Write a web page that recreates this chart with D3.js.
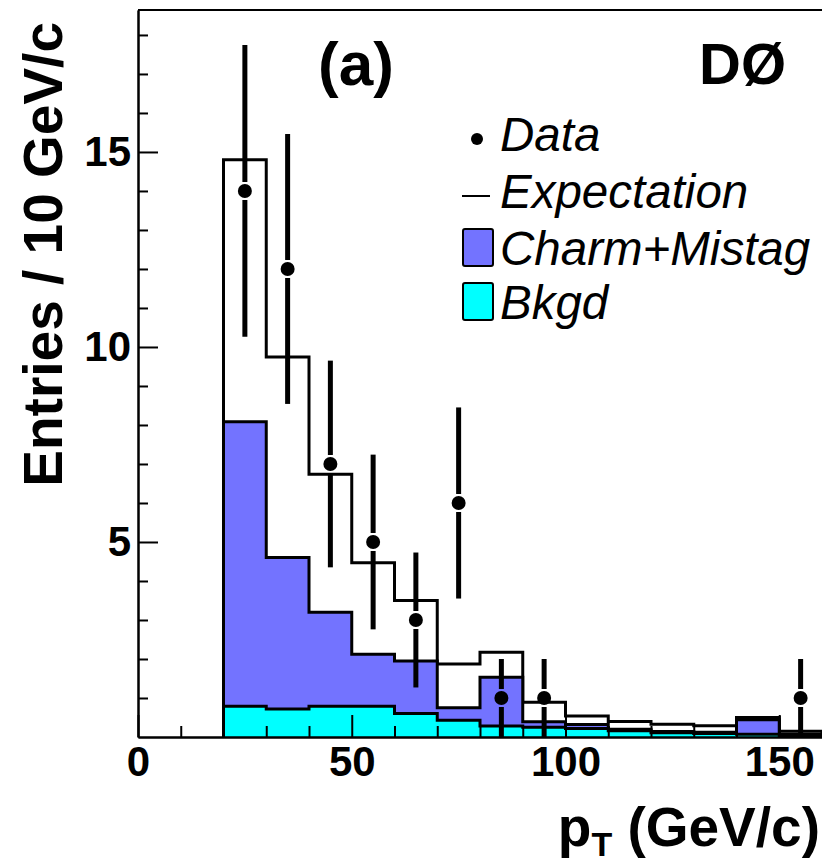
<!DOCTYPE html>
<html>
<head>
<meta charset="utf-8">
<script src="https://cdn.jsdelivr.net/npm/d3@7"></script>
<style>
	body { margin: 0; background: #fff; }
	svg { display: block; font-family: 'Liberation Sans', Arial, Helvetica, sans-serif; }
	.axis text { font-size: 42px; font-weight: bold; fill: #000; }
	.axis .domain { stroke: #000; stroke-width: 2; }
	.axis line { stroke: #000; stroke-width: 2; }
	.legend-text { font-size: 47.5px; font-style: italic; }
</style>
</head>
<body>
<div id="chart"></div>
<script>
// histogram bins (lower edges, GeV/c), 10 GeV/c wide
var binLow = [20, 30, 40, 50, 60, 70, 80, 90, 100, 110, 120, 130, 140, 150];
var binWidth = 10;

// stacked expectations per bin
var expectation = [14.8, 9.74, 6.74, 4.47, 3.5, 1.87, 2.17, 0.89, 0.54, 0.4, 0.33, 0.29, 0.5, 0.15];
var charmMistag = [8.08, 4.6, 3.2, 2.12, 1.95, 0.75, 1.53, 0.39, 0.32, 0.2, 0.14, 0.12, 0.44, 0.07];
var bkgd = [0.79, 0.72, 0.79, 0.79, 0.6, 0.43, 0.28, 0.25, 0.22, 0.16, 0.11, 0.09, 0.07, 0.03];

// data points
var dataX = [25, 35, 45, 55, 65, 75, 85, 95, 155];
var dataY = [14, 12, 7, 5, 3, 6, 1, 1, 1];
var dataErr = [3.74, 3.46, 2.65, 2.24, 1.73, 2.45, 1, 1, 1];

// axis ticks
var xMajor = [0, 50, 100, 150];
var xMinor = [10, 20, 30, 40, 60, 70, 80, 90, 110, 120, 130, 140];
var yMajor = [5, 10, 15];
var yMinor = [1, 2, 3, 4, 6, 7, 8, 9, 11, 12, 13, 14, 16, 17, 18];

var W = 822, H = 867;
var frame = { left: 138, right: 822, top: 10, bottom: 737 };
var colors = { charm: '#7373ff', bkgd: '#00ffff' };

var x = d3.scaleLinear().domain([0, 160]).range([frame.left, frame.right]);
var y = d3.scaleLinear().domain([0, 18.64]).range([frame.bottom, frame.top]);

var svg = d3.select('#chart').append('svg')
	.attr('width', W)
	.attr('height', H);

svg.append('defs').append('clipPath').attr('id', 'plot')
	.append('rect')
	.attr('x', frame.left).attr('y', frame.top)
	.attr('width', frame.right - frame.left).attr('height', frame.bottom - frame.top);

var plot = svg.append('g').attr('clip-path', 'url(#plot)');

// step outline of a histogram, closed down to zero
function histPath(values) {
	var pts = [[x(binLow[0]), y(0)]];
	values.forEach(function(v, i) {
		pts.push([x(binLow[i]), y(v)]);
		pts.push([x(binLow[i] + binWidth), y(v)]);
	});
	pts.push([x(binLow[binLow.length - 1] + binWidth), y(0)]);
	return d3.line()(pts);
}

plot.append('path').attr('d', histPath(expectation))
	.attr('fill', '#fff').attr('stroke', '#000').attr('stroke-width', 3);
plot.append('path').attr('d', histPath(charmMistag))
	.attr('fill', colors.charm).attr('stroke', '#000').attr('stroke-width', 3);
plot.append('path').attr('d', histPath(bkgd))
	.attr('fill', colors.bkgd).attr('stroke', '#000').attr('stroke-width', 3);

// data with error bars (gap around marker)
var r = 7, gap = 2;
var pts = plot.append('g');
dataX.forEach(function(dx, i) {
	var cx = x(dx), cy = y(dataY[i]);
	pts.append('line')
		.attr('x1', cx).attr('x2', cx)
		.attr('y1', y(dataY[i] + dataErr[i])).attr('y2', cy - r - gap)
		.attr('stroke', '#000').attr('stroke-width', 5);
	pts.append('line')
		.attr('x1', cx).attr('x2', cx)
		.attr('y1', cy + r + gap).attr('y2', y(Math.max(0, dataY[i] - dataErr[i])))
		.attr('stroke', '#000').attr('stroke-width', 5);
	pts.append('circle')
		.attr('cx', cx).attr('cy', cy).attr('r', r)
		.attr('fill', '#000');
});

// axes, drawn over the histograms
svg.append('g').attr('class', 'axis')
	.attr('transform', 'translate(0,' + frame.bottom + ')')
	.call(d3.axisBottom(x).tickValues(xMinor).tickSize(-11).tickSizeOuter(0).tickFormat(''));
svg.append('g').attr('class', 'axis')
	.attr('transform', 'translate(0,' + frame.bottom + ')')
	.call(d3.axisBottom(x).tickValues(xMajor).tickSize(-22).tickSizeOuter(0).tickPadding(9).tickFormat(d3.format('d')));

svg.append('g').attr('class', 'axis')
	.attr('transform', 'translate(' + frame.left + ',0)')
	.call(d3.axisLeft(y).tickValues(yMinor).tickSize(-10).tickSizeOuter(0).tickFormat(''));
svg.append('g').attr('class', 'axis')
	.attr('transform', 'translate(' + frame.left + ',0)')
	.call(d3.axisLeft(y).tickValues(yMajor).tickSize(-20).tickSizeOuter(0).tickPadding(7).tickFormat(d3.format('d')));

// frame top
svg.append('line')
	.attr('x1', frame.left).attr('x2', frame.right)
	.attr('y1', frame.top).attr('y2', frame.top)
	.attr('stroke', '#000').attr('stroke-width', 2);

// axis titles
var xt = svg.append('text')
	.attr('x', 820).attr('y', 846)
	.attr('text-anchor', 'end')
	.style('font-size', '55px').style('font-weight', 'bold');
xt.append('tspan').text('p');
xt.append('tspan').attr('dy', 10).style('font-size', '34px').text('T');
xt.append('tspan').attr('dy', -10).text(' (GeV/c)');

svg.append('text')
	.attr('transform', 'translate(62,22) rotate(-90)')
	.attr('text-anchor', 'end')
	.style('font-size', '55px').style('font-weight', 'bold')
	.text('Entries / 10 GeV/c');

// labels
svg.append('text')
	.attr('x', 318).attr('y', 85)
	.style('font-size', '62px').style('font-weight', 'bold')
	.text('(a)');
svg.append('text')
	.attr('x', 699).attr('y', 84)
	.style('font-size', '58px').style('font-weight', 'bold')
	.text('DØ');

// legend
var legend = svg.append('g');
legend.append('circle').attr('cx', 477).attr('cy', 139).attr('r', 6).attr('fill', '#000');
legend.append('line')
	.attr('x1', 462).attr('x2', 490).attr('y1', 196).attr('y2', 196)
	.attr('stroke', '#000').attr('stroke-width', 2);
legend.append('rect')
	.attr('x', 463).attr('y', 229).attr('width', 30).attr('height', 37).attr('rx', 2)
	.attr('fill', colors.charm).attr('stroke', '#000').attr('stroke-width', 2);
legend.append('rect')
	.attr('x', 463).attr('y', 283).attr('width', 30).attr('height', 37).attr('rx', 2)
	.attr('fill', colors.bkgd).attr('stroke', '#000').attr('stroke-width', 2);

var legendLabels = ['Data', 'Expectation', 'Charm+Mistag', 'Bkgd'];
var legendBase = [151, 208, 265, 319];
legendLabels.forEach(function(label, i) {
	legend.append('text')
		.attr('class', 'legend-text')
		.attr('x', 500).attr('y', legendBase[i])
		.text(label);
});
</script>
</body>
</html>
